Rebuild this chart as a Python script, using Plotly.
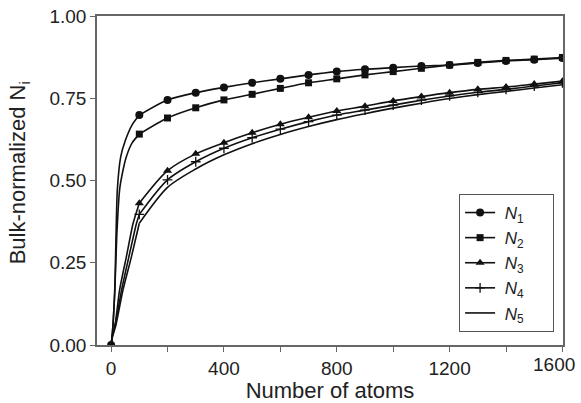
import plotly.graph_objects as go

# marker positions (number of atoms)
x_pts = [100, 200, 300, 400, 500, 600, 700, 800, 900, 1000, 1100, 1200, 1300, 1400, 1500, 1600]

n1 = [0.699, 0.745, 0.767, 0.783, 0.797, 0.809, 0.821, 0.831, 0.838, 0.843, 0.848, 0.851, 0.857, 0.863, 0.867, 0.872]
n2 = [0.641, 0.690, 0.721, 0.745, 0.762, 0.780, 0.797, 0.809, 0.821, 0.831, 0.841, 0.851, 0.859, 0.865, 0.869, 0.874]
n3 = [0.431, 0.530, 0.581, 0.615, 0.645, 0.671, 0.692, 0.711, 0.726, 0.742, 0.755, 0.767, 0.777, 0.784, 0.793, 0.802]
n4 = [0.397, 0.502, 0.557, 0.598, 0.630, 0.656, 0.679, 0.699, 0.714, 0.729, 0.744, 0.757, 0.768, 0.777, 0.787, 0.797]
n5 = [0.370, 0.479, 0.535, 0.578, 0.612, 0.640, 0.664, 0.685, 0.703, 0.720, 0.735, 0.749, 0.761, 0.771, 0.781, 0.791]

# steep initial rise (0-100 atoms)
n1_lead_x = [0, 4, 13, 22, 34, 51, 75, 100]
n1_lead_y = [0, 0.03, 0.17, 0.47, 0.572, 0.623, 0.67, 0.699]
n2_lead_x = [0, 4, 13, 20, 30, 40, 54, 75, 100]
n2_lead_y = [0, 0.03, 0.16, 0.33, 0.471, 0.522, 0.572, 0.615, 0.641]
n3_lead_x = [0, 5, 15, 30, 54, 78, 100]
n3_lead_y = [0, 0.03, 0.067, 0.167, 0.268, 0.37, 0.431]
n4_lead_x = [0, 5, 16, 37, 63, 90, 100]
n4_lead_y = [0, 0.03, 0.067, 0.167, 0.268, 0.37, 0.397]
n5_lead_x = [0, 5, 17, 42, 72, 100]
n5_lead_y = [0, 0.025, 0.06, 0.167, 0.268, 0.37]

names = ["<i>N</i><sub>1</sub>", "<i>N</i><sub>2</sub>", "<i>N</i><sub>3</sub>",
         "<i>N</i><sub>4</sub>", "<i>N</i><sub>5</sub>"]

x_tickvals = [0, 200, 400, 600, 800, 1000, 1200, 1400, 1600]
x_ticktext = ["0", "", "400", "", "800", "", "1200", "", ""]
x_last_label = "1600"
y_tickvals = [0, 0.25, 0.5, 0.75, 1.0]
y_ticktext = ["0.00", "0.25", "0.50", "0.75", "1.00"]

series = [
    (n1, n1_lead_x, n1_lead_y, "circle", 8),
    (n2, n2_lead_x, n2_lead_y, "square", 7),
    (n3, n3_lead_x, n3_lead_y, "triangle-up", 8),
    (n4, n4_lead_x, n4_lead_y, "cross-thin", 7),
    (n5, n5_lead_x, n5_lead_y, None, 0),
]

LC = "#111111"
FONT = "Liberation Sans, Arial, sans-serif"
TXT = "#222222"
LPAD = "\u00a0"
RPAD = "\u00a0" * 5
fig = go.Figure()
for i, (ys, lx, ly, sym, ms) in enumerate(series):
    # leading part near the origin
    fig.add_trace(go.Scatter(
        x=lx, y=ly, mode="lines", showlegend=False, legendgroup=str(i),
        line=dict(color=LC, width=1.6, shape="spline", smoothing=0.6),
        hoverinfo="skip"))
    if sym is None:
        fig.add_trace(go.Scatter(
            x=x_pts, y=ys, mode="lines", name=LPAD + names[i] + RPAD, legendgroup=str(i),
            line=dict(color=LC, width=1.6, shape="spline", smoothing=0.8)))
    else:
        fig.add_trace(go.Scatter(
            x=x_pts, y=ys, mode="lines+markers", name=LPAD + names[i] + RPAD, legendgroup=str(i),
            line=dict(color=LC, width=1.6, shape="spline", smoothing=0.8),
            marker=dict(symbol=sym, size=ms, color=LC,
                        line=dict(color=LC, width=1.3 if sym == "cross-thin" else 0))))

# origin point (shared start of all curves)
fig.add_trace(go.Scatter(x=[n1_lead_x[0]], y=[n1_lead_y[0]], mode="markers",
                         showlegend=False, marker=dict(symbol="circle", size=8, color=LC)))

axis_common = dict(showline=True, linecolor="#666666", linewidth=1.5, mirror=True,
                   ticks="outside", ticklen=5, tickwidth=1.2, tickcolor="#666666",
                   showgrid=False, zeroline=False, automargin=False,
                   tickfont=dict(family=FONT, size=19, color=TXT))

fig.update_layout(
    width=581, height=403,
    margin=dict(l=97, r=18, t=16, b=58),
    paper_bgcolor="white", plot_bgcolor="white",
    font=dict(family=FONT, color=TXT),
    xaxis=dict(range=[-50, 1602], tickvals=x_tickvals, ticktext=x_ticktext,
               title=dict(text="Number of atoms", font=dict(size=22), standoff=17),
               **axis_common),
    yaxis=dict(range=[0, 1.0], tickvals=y_tickvals, ticktext=y_ticktext,
               **axis_common),
    legend=dict(x=0.777, y=0.459, xanchor="left", yanchor="top",
                bgcolor="white", bordercolor="#555555", borderwidth=1,
                font=dict(family=FONT, size=17, color=TXT),
                tracegroupgap=0),
    annotations=[
        dict(text="Bulk-normalized N<sub>i</sub>", textangle=-90,
             xref="paper", yref="paper", x=-0.168, y=0.524,
             xanchor="center", yanchor="middle", showarrow=False,
             font=dict(family=FONT, size=22, color=TXT)),
        dict(text=x_last_label, xref="x", yref="paper", x=x_tickvals[-1], y=0,
             xanchor="right", yanchor="top", xshift=15, yshift=-7, showarrow=False,
             font=dict(family=FONT, size=19, color=TXT)),
    ],
)

fig.write_html("out.html", config={"displayModeBar": False},
               post_script="document.body.style.margin='0';document.body.style.overflow='hidden';")
